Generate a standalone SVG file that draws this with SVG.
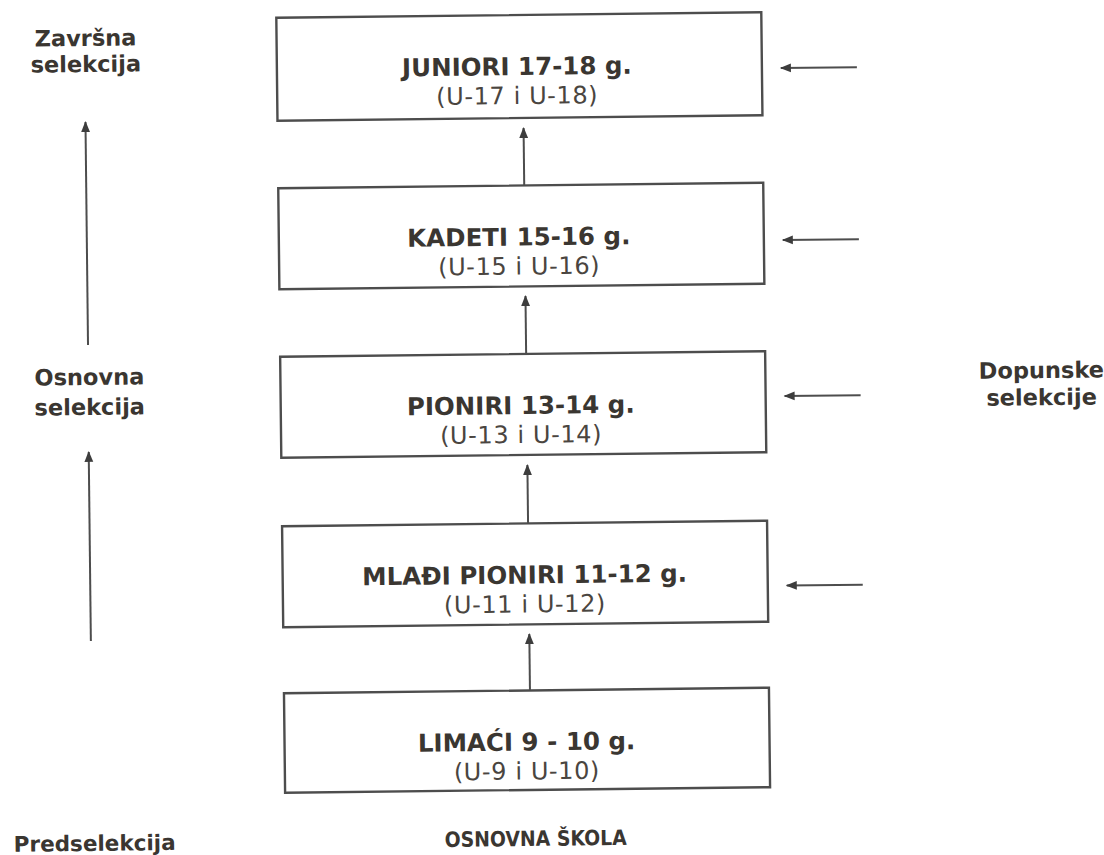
<svg xmlns="http://www.w3.org/2000/svg" width="1104" height="855" viewBox="0 0 1104 855">
<style>
.box{fill:#ffffff;stroke:#4d4d4d;stroke-width:2.4}
.t1{font-family:"DejaVu Sans",Verdana,sans-serif;font-weight:bold;font-size:24.5px;fill:#3a3631;text-anchor:middle}
.t2{font-family:"DejaVu Sans",Verdana,sans-serif;font-size:24px;fill:#4a4540;text-anchor:middle;letter-spacing:0.6px}
.lbl{font-family:"DejaVu Sans",Verdana,sans-serif;font-weight:bold;font-size:22.5px;fill:#3a3631;text-anchor:middle}
.bot{font-family:"DejaVu Sans",Verdana,sans-serif;font-weight:bold;font-size:21px;fill:#3a3631;text-anchor:middle}
.arr{stroke:#4d4d4d;stroke-width:2;fill:none;marker-end:url(#ah)}
</style>
<defs>
<marker id="ah" markerUnits="userSpaceOnUse" markerWidth="12" markerHeight="10" refX="10" refY="5" orient="auto">
<path d="M0,0.6 L11,5 L0,9.4 Z" fill="#3d3d3d"/>
</marker>
</defs>
<rect width="1104" height="855" fill="#ffffff"/>
<g transform="rotate(-0.65 522 430)">
<g id="labels-left">
<text class="lbl" x="90" y="41">Završna</text>
<text class="lbl" x="90" y="67">selekcija</text>
<text class="lbl" x="90" y="380">Osnovna</text>
<text class="lbl" x="90" y="410">selekcija</text>
<text class="lbl" x="90" y="846" style="font-size:21.5px">Predselekcija</text>
</g>
<g id="labels-right">
<text class="lbl" x="1042" y="384">Dopunske</text>
<text class="lbl" x="1042" y="411">selekcije</text>
</g>
<g id="label-bottom">
<text class="bot" x="531" y="846" textLength="182" lengthAdjust="spacingAndGlyphs">OSNOVNA ŠKOLA</text>
</g>
<g id="juniori">
<rect class="box" x="281" y="15" width="485" height="103"/>
<text class="t1" x="521" y="75">JUNIORI 17-18 g.</text>
<text class="t2" x="521" y="104">(U-17 i U-18)</text>
</g>
<g id="kadeti">
<rect class="box" x="281" y="185.5" width="485" height="101"/>
<text class="t1" x="521" y="245.5">KADETI 15-16 g.</text>
<text class="t2" x="521" y="274.5">(U-15 i U-16)</text>
</g>
<g id="pioniri">
<rect class="box" x="281" y="354" width="485" height="101"/>
<text class="t1" x="521" y="414">PIONIRI 13-14 g.</text>
<text class="t2" x="521" y="443">(U-13 i U-14)</text>
</g>
<g id="mladi-pioniri">
<rect class="box" x="281" y="523.5" width="485" height="101"/>
<text class="t1" x="523" y="583.5">MLAĐI PIONIRI 11-12 g.</text>
<text class="t2" x="523" y="612.5">(U-11 i U-12)</text>
</g>
<g id="limaci">
<rect class="box" x="281" y="690.5" width="485" height="99.5"/>
<text class="t1" x="523" y="750.5">LIMAĆI 9 - 10 g.</text>
<text class="t2" x="523" y="779.5">(U-9 i U-10)</text>
</g>
<g id="connectors">
<line class="arr" x1="527" y1="185.5" x2="527" y2="128"/>
<line class="arr" x1="527" y1="354" x2="527" y2="296"/>
<line class="arr" x1="527" y1="523.5" x2="527" y2="465"/>
<line class="arr" x1="527" y1="690.5" x2="527" y2="634"/>
<line class="arr" x1="89" y1="340" x2="89" y2="117"/>
<line class="arr" x1="88.5" y1="636" x2="88.5" y2="447"/>
<line class="arr" x1="861" y1="71" x2="785" y2="71"/>
<line class="arr" x1="861" y1="243" x2="785" y2="243"/>
<line class="arr" x1="861" y1="399" x2="785" y2="399"/>
<line class="arr" x1="861" y1="588.5" x2="785" y2="588.5"/>
</g>
</g>
</svg>
